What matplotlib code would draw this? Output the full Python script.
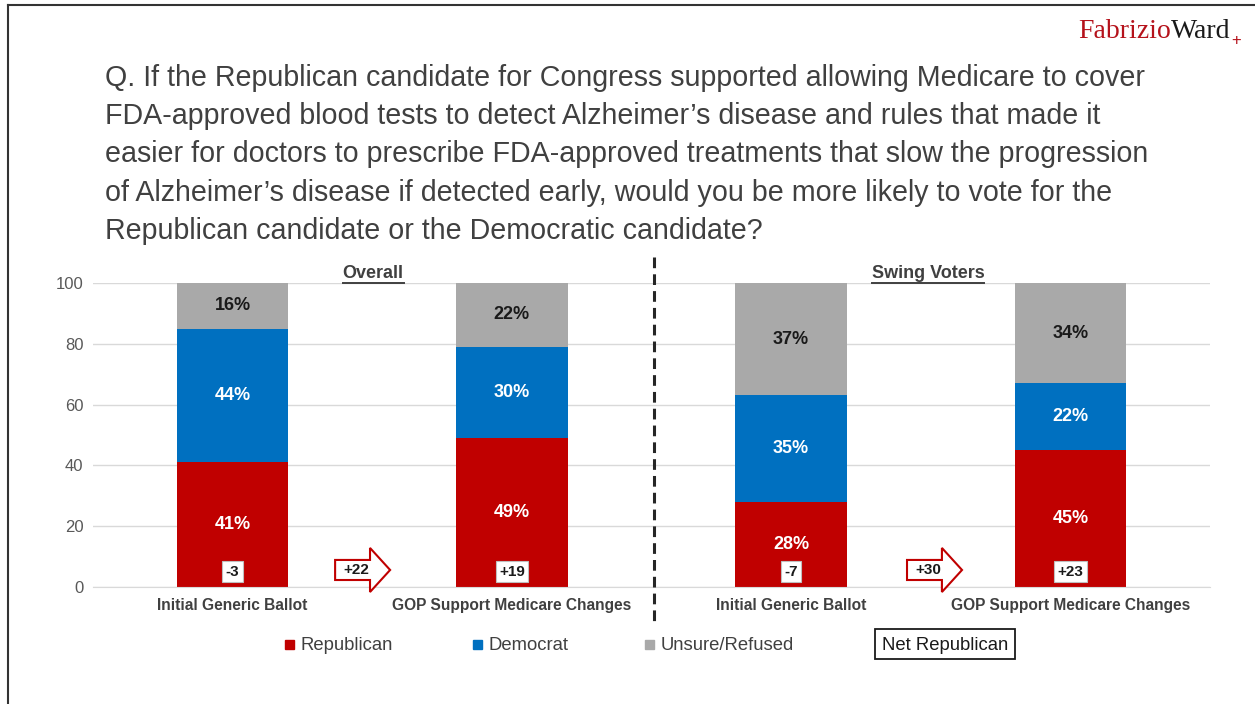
"""Stacked bar chart: Medicare Alzheimer's question, overall vs swing voters."""

import matplotlib
matplotlib.use("Agg")
import matplotlib.pyplot as plt
from matplotlib.patches import FancyArrow, Rectangle
from matplotlib.lines import Line2D

plt.rcParams["font.family"] = ["Liberation Sans", "DejaVu Sans"]

categories = ["Initial Generic Ballot", "GOP Support Medicare Changes",
              "Initial Generic Ballot", "GOP Support Medicare Changes"]
republican = [41, 49, 28, 45]
democrat = [44, 30, 35, 22]
unsure = [16, 22, 37, 34]
net_republican = ["-3", "+19", "-7", "+23"]
shift_labels = ["+22", "+30"]
shift_starts = [0.367, 2.415]
group_labels = ["Overall", "Swing Voters"]

RED = "#C00000"
BLUE = "#0070C0"
GRAY = "#A9A9A9"
TEXT = "#404040"

title_lines = [
    "Q. If the Republican candidate for Congress supported allowing Medicare to cover",
    "FDA-approved blood tests to detect Alzheimer\u2019s disease and rules that made it",
    "easier for doctors to prescribe FDA-approved treatments that slow the progression",
    "of Alzheimer\u2019s disease if detected early, would you be more likely to vote for the",
    "Republican candidate or the Democratic candidate?",
]

W, H = 1255, 704
fig = plt.figure(figsize=(W / 100, H / 100), dpi=100)


def fx(px):
    return px / W


def fy(py):
    return 1 - py / H


# slide frame (top and left edges)
fig.add_artist(Line2D([fx(8), 1], [fy(5), fy(5)], color="#333333", lw=1.5))
fig.add_artist(Line2D([fx(8), fx(8)], [fy(5), 0], color="#333333", lw=1.5))

# logo
logo = fig.text(fx(1078), fy(38), "Fabrizio", color="#B5121B", fontsize=20,
                family="Liberation Serif", va="baseline")
fig.canvas.draw()
bb = logo.get_window_extent()
fig.text(bb.x1 / W, fy(38), "Ward", color="#1A1A1A", fontsize=20,
         family="Liberation Serif", va="baseline")
fig.text(fx(1236), fy(40), "+", color="#B5121B", fontsize=12, ha="center", va="center")

# question
for i, line in enumerate(title_lines):
    fig.text(fx(105), fy(86 + 38.25 * i), line, fontsize=20.6, color=TEXT, va="baseline")

ax = fig.add_axes([fx(93), fy(587), fx(1210) - fx(93), fy(283) - fy(587)])
x = list(range(len(categories)))
width = 0.4
bottom2 = [r + d for r, d in zip(republican, democrat)]
ax.bar(x, republican, width, color=RED, zorder=2)
ax.bar(x, democrat, width, bottom=republican, color=BLUE, zorder=2)
ax.bar(x, unsure, width, bottom=bottom2, color=GRAY, zorder=2)

ax.set_xlim(-0.5, 3.5)
ax.set_ylim(0, 100)
ax.set_yticks(range(0, 101, 20))
ax.tick_params(axis="y", length=0, labelsize=12, labelcolor="#595959", pad=7)
ax.set_xticks(x)
ax.set_xticklabels(categories, fontsize=11.2, fontweight="bold", color=TEXT)
ax.tick_params(axis="x", length=0, pad=8)
ax.grid(axis="y", color="#D9D9D9", lw=1, zorder=0)
for s in ["top", "right", "left"]:
    ax.spines[s].set_visible(False)
ax.spines["bottom"].set_color("#D9D9D9")

for i in x:
    ax.text(i, republican[i] / 2, f"{republican[i]}%", ha="center", va="center",
            color="white", fontsize=13, fontweight="bold", zorder=3)
    ax.text(i, republican[i] + democrat[i] / 2, f"{democrat[i]}%", ha="center",
            va="center", color="white", fontsize=13, fontweight="bold", zorder=3)
    top = min(bottom2[i] + unsure[i], 100)
    ax.text(i, (bottom2[i] + top) / 2, f"{unsure[i]}%", ha="center", va="center",
            color="#1A1A1A", fontsize=13, fontweight="bold", zorder=3)
    ax.text(i, 5, net_republican[i], ha="center", va="center", fontsize=11,
            fontweight="bold", color="#1A1A1A", zorder=4,
            bbox=dict(boxstyle="square,pad=0.22", fc="white", ec="#BFBFBF", lw=0.8))

for start, lab in zip(shift_starts, shift_labels):
    arrow = FancyArrow(start, 5.6, 0.125, 0, width=6.6, head_width=14.5,
                       head_length=0.072, length_includes_head=False,
                       fc="white", ec=RED, lw=1.5, clip_on=False, zorder=4)
    ax.add_patch(arrow)
    ax.text(start + 0.075, 5.6, lab, ha="center", va="center", fontsize=11,
            fontweight="bold", color="#1A1A1A", zorder=5)

# group divider
ax.plot([1.51, 1.51], [108.5, -12.5], color="#262626", lw=2.2,
        dashes=(3.5, 2), clip_on=False, zorder=3)

# group headers, underlined
for cx, lab in zip([373, 928], group_labels):
    t = fig.text(fx(cx), fy(274), lab, ha="center", va="center", fontsize=13,
                 fontweight="bold", color=TEXT)
    fig.canvas.draw()
    tb = t.get_window_extent()
    fig.add_artist(Line2D([tb.x0 / W, tb.x1 / W], [fy(283), fy(283)],
                          color=TEXT, lw=1.4))

# legend
for sx, col, lab in [(290, RED, "Republican"), (478, BLUE, "Democrat"),
                     (650, GRAY, "Unsure/Refused")]:
    fig.add_artist(Rectangle((fx(sx - 5), fy(649)), fx(9), fy(640) - fy(649),
                             transform=fig.transFigure, color=col))
    fig.text(fx(sx + 11), fy(644), lab, fontsize=13.3, color=TEXT,
             va="center_baseline")
fig.text(fx(945), fy(644), "Net Republican", fontsize=13.3, color="#1A1A1A",
         ha="center", va="center_baseline")
fig.add_artist(Rectangle((fx(875), fy(659)), fx(140), fy(629) - fy(659),
                         transform=fig.transFigure, fc="none", ec="#1A1A1A", lw=1.3))

fig.savefig("out.png", dpi=100)
